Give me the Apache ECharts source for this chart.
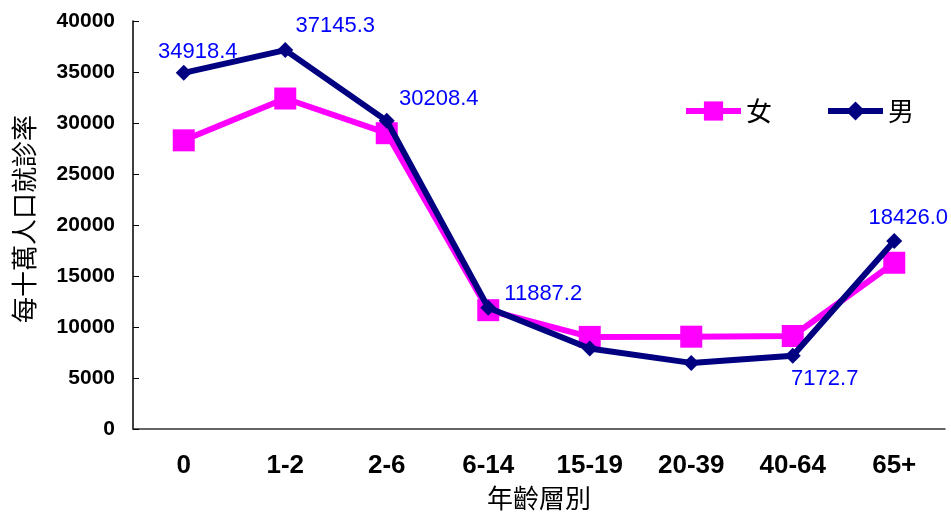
<!DOCTYPE html>
<html><head><meta charset="utf-8">
<script src="https://cdn.jsdelivr.net/npm/echarts@6/dist/echarts.min.js"></script>
<style>html,body{margin:0;padding:0;background:#fff}#c{width:951px;height:518px}</style>
</head><body><div id="c"></div>
<script>
const categories = ['0','1-2','2-6','6-14','15-19','20-39','40-64','65+'];
const female = [28300, 32400, 29000, 11650, 9030, 9050, 9120, 16300];
const male = [34918.4, 37145.3, 30208.4, 11887.2, 7890, 6480, 7172.7, 18426.0];
const maleLabelShown = [true, true, true, true, false, false, true, true];
const yTicks = {min: 0, max: 40000, interval: 5000};

const labelOffsets = [[14,-21],[50,-24],[52,-22],[55,-14],[0,0],[0,0],[32,23],[14,-23]];
const latin = '"Liberation Sans", Arial, sans-serif';
const cjk = '"Noto Sans CJK TC", "Liberation Sans", sans-serif';

const chart = echarts.init(document.getElementById('c'), null, {renderer: 'canvas'});
chart.setOption({
  animation: false,
  backgroundColor: '#fff',
  grid: {left: 133, right: 6, top: 21, bottom: 89},
  legend: {
    left: 678, top: 93,
    itemWidth: 55, itemHeight: 24, itemGap: 53,
    lineStyle: {width: 6},
    textStyle: {fontFamily: cjk, fontSize: 26, color: '#000'},
    data: ['女', '男']
  },
  xAxis: {
    type: 'category', data: categories, boundaryGap: true,
    axisLine: {lineStyle: {color: '#333', width: 1.5}},
    axisTick: {inside: true, length: 7, alignWithLabel: false, lineStyle: {color: '#333'}},
    axisLabel: {margin: 24, fontFamily: latin, fontWeight: 'bold', fontSize: 26, color: '#000'},
    name: '年齡層別', nameLocation: 'middle', nameGap: 56,
    nameTextStyle: {fontFamily: cjk, fontSize: 26, color: '#000'}
  },
  yAxis: {
    type: 'value', min: yTicks.min, max: yTicks.max, interval: yTicks.interval,
    splitLine: {show: false},
    axisLine: {show: true, lineStyle: {color: '#000', width: 1.5}},
    axisTick: {show: true, inside: true, length: 6, lineStyle: {color: '#000'}},
    axisLabel: {margin: 18, fontFamily: latin, fontWeight: 'bold', fontSize: 21, color: '#000',
      formatter: v => String(v)},
    name: '每十萬人口就診率', nameLocation: 'middle', nameGap: 96, nameRotate: 90,
    nameTextStyle: {fontFamily: cjk, fontSize: 26, color: '#000', padding: [0, 0, 0, 12]}
  },
  series: [
    {
      name: '女', type: 'line', data: female, z: 2,
      symbol: 'rect', symbolSize: 22,
      lineStyle: {color: '#FF00FF', width: 6},
      itemStyle: {color: '#FF00FF'},
      label: {show: false}
    },
    {
      name: '男', type: 'line', z: 3,
      data: male.map((v, i) => ({
        value: v,
        label: {
          show: maleLabelShown[i], position: 'inside', offset: labelOffsets[i],
          formatter: () => v.toFixed(1)
        }
      })),
      symbol: 'diamond', symbolSize: 16,
      lineStyle: {color: '#000080', width: 6},
      itemStyle: {color: '#000080'},
      label: {fontFamily: latin, fontSize: 22, color: '#0000FF'}
    }
  ]
});
</script></body></html>
